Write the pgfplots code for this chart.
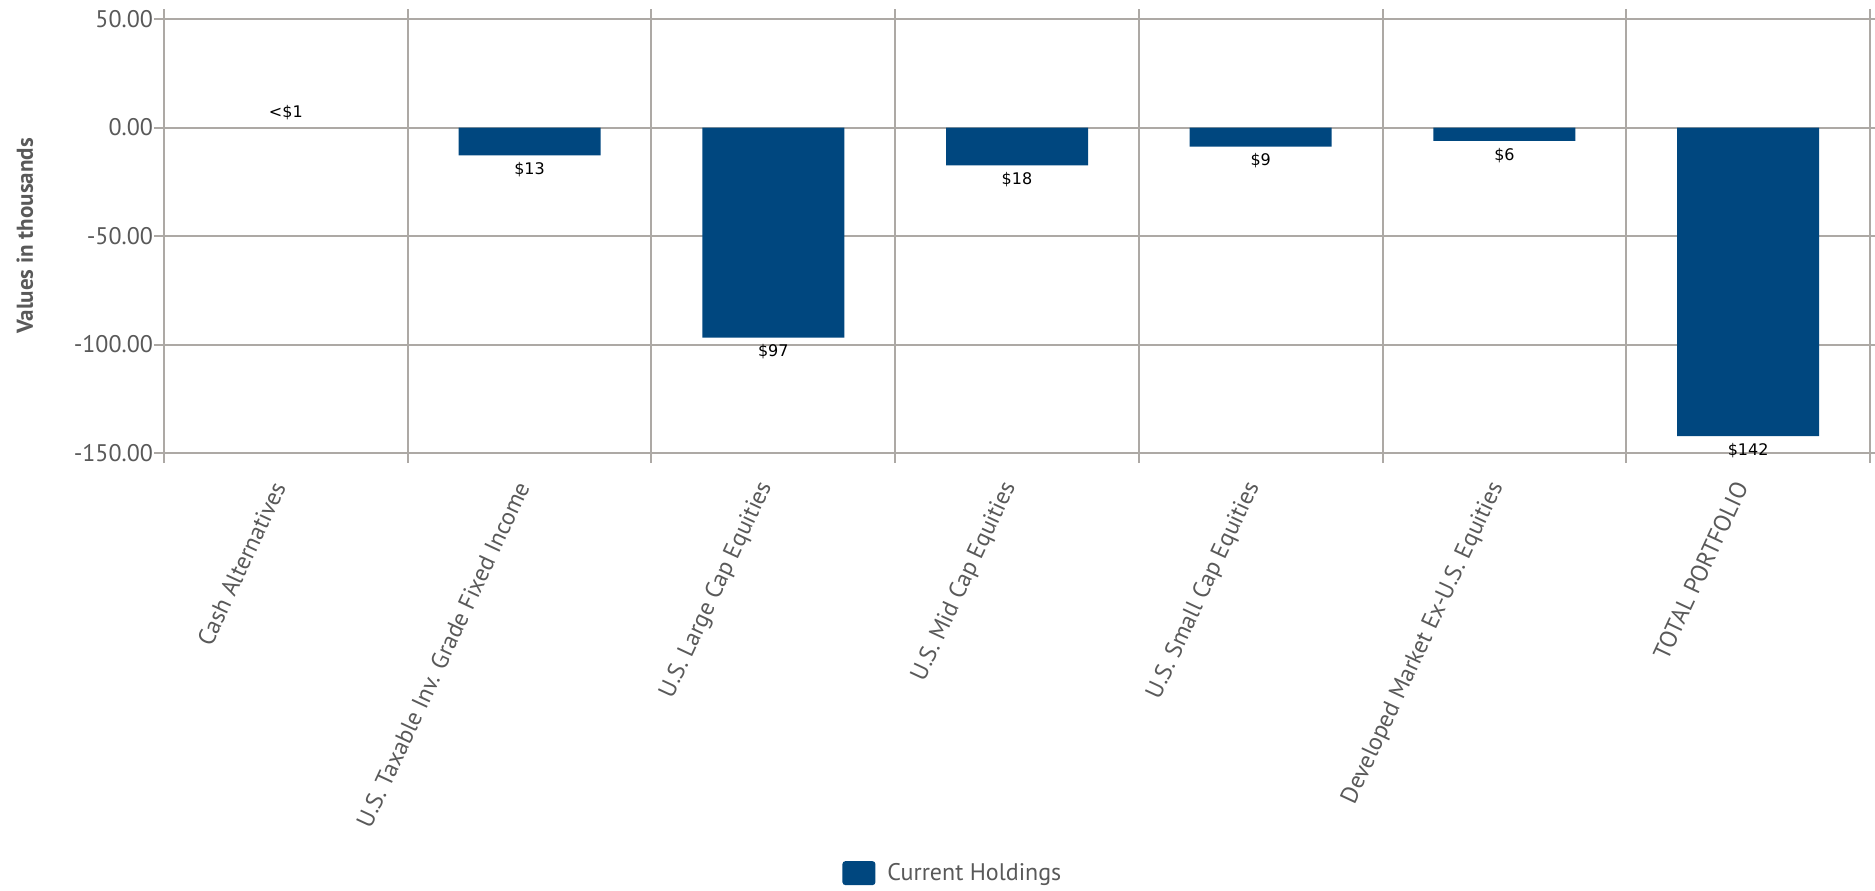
\documentclass[border=0pt]{standalone}
\usepackage{pgfplots}
\pgfplotsset{compat=1.18}
\usepackage{fontspec}
\setmainfont{PT Sans}
\newfontfamily\valfont{DejaVu Sans}
\definecolor{barblue}{HTML}{00477F}
\definecolor{gridgray}{HTML}{ADA9A5}
\definecolor{txtgray}{HTML}{595959}

\begin{document}
\begin{tikzpicture}
\begin{axis}[
    name=ax,
    scale only axis,
    width=853pt, height=217pt,
    xmin=-0.5, xmax=6.5,
    ymin=-150, ymax=50,
    ytick={-150,-100,-50,0,50},
    yticklabels={-150.00,-100.00,-50.00,0.00,50.00},
    xtick={0,1,2,3,4,5,6},
    xticklabels={Cash Alternatives,U.S. Taxable Inv. Grade Fixed Income,U.S. Large Cap Equities,U.S. Mid Cap Equities,U.S. Small Cap Equities,Developed Market Ex-U.S. Equities,TOTAL PORTFOLIO},
    minor xtick={-0.5,0.5,1.5,2.5,3.5,4.5,5.5,6.5},
    xminorgrids=true,
    ymajorgrids=true,
    grid style={gridgray, line width=1pt},
    minor grid style={gridgray, line width=1pt},
    axis line style={gridgray, line width=1pt},
    tick align=outside,
    major tick length=5pt,
    minor tick length=5pt,
    tick style={gridgray, line width=1pt},
    major x tick style={draw=none},
    ticklabel style={font=\fontsize{12}{14}\selectfont, text=txtgray},
    yticklabel style={xshift=3pt},
    xticklabel style={xshift=-2pt, yshift=-7pt, rotate=65, anchor=east},
    ylabel={Values in thousands},
    ylabel style={font=\bfseries\fontsize{11.5}{13}\selectfont, text=txtgray,
        at={(axis description cs:-0.0815,0.5)}, anchor=center},
    legend style={at={(0.463,-0.968)}, anchor=center, draw=none,
        font=\fontsize{12}{14}\selectfont, text=txtgray},
    legend image code/.code={
        \fill[barblue, rounded corners=1.5pt] (0pt,-6pt) rectangle (16.5pt,6pt);
        \path (20.5pt,0pt);},
]
% negative values: labels below the bars
\addplot[ybar, bar width=71pt, bar shift=0pt, fill=barblue, draw=none,
    point meta=explicit symbolic,
    nodes near coords,
    nodes near coords style={font=\valfont\fontsize{8}{9}\selectfont, text=black, anchor=north},
    ] coordinates {
    (1,-12.8)[\$13]
    (2,-96.8)[\$97]
    (3,-17.4)[\$18]
    (4,-8.8)[\$9]
    (5,-6.2)[\$6]
    (6,-142.2)[\$142]
};
\addlegendentry{Current Holdings}
% cash: below one thousand, bar too small to show, label above
\addplot[ybar, bar width=71pt, bar shift=0pt, fill=none, draw=none, forget plot,
    point meta=explicit symbolic,
    nodes near coords,
    nodes near coords style={font=\valfont\fontsize{8}{9}\selectfont, text=black, anchor=south},
    ] coordinates {
    (0,0.3)[<\$1]
};
\end{axis}
\pgfresetboundingbox
\path[use as bounding box] ([xshift=-82pt,yshift=-218.5pt]ax.south west) rectangle ([xshift=2.5pt,yshift=9.5pt]ax.north east);
\end{tikzpicture}
\end{document}
